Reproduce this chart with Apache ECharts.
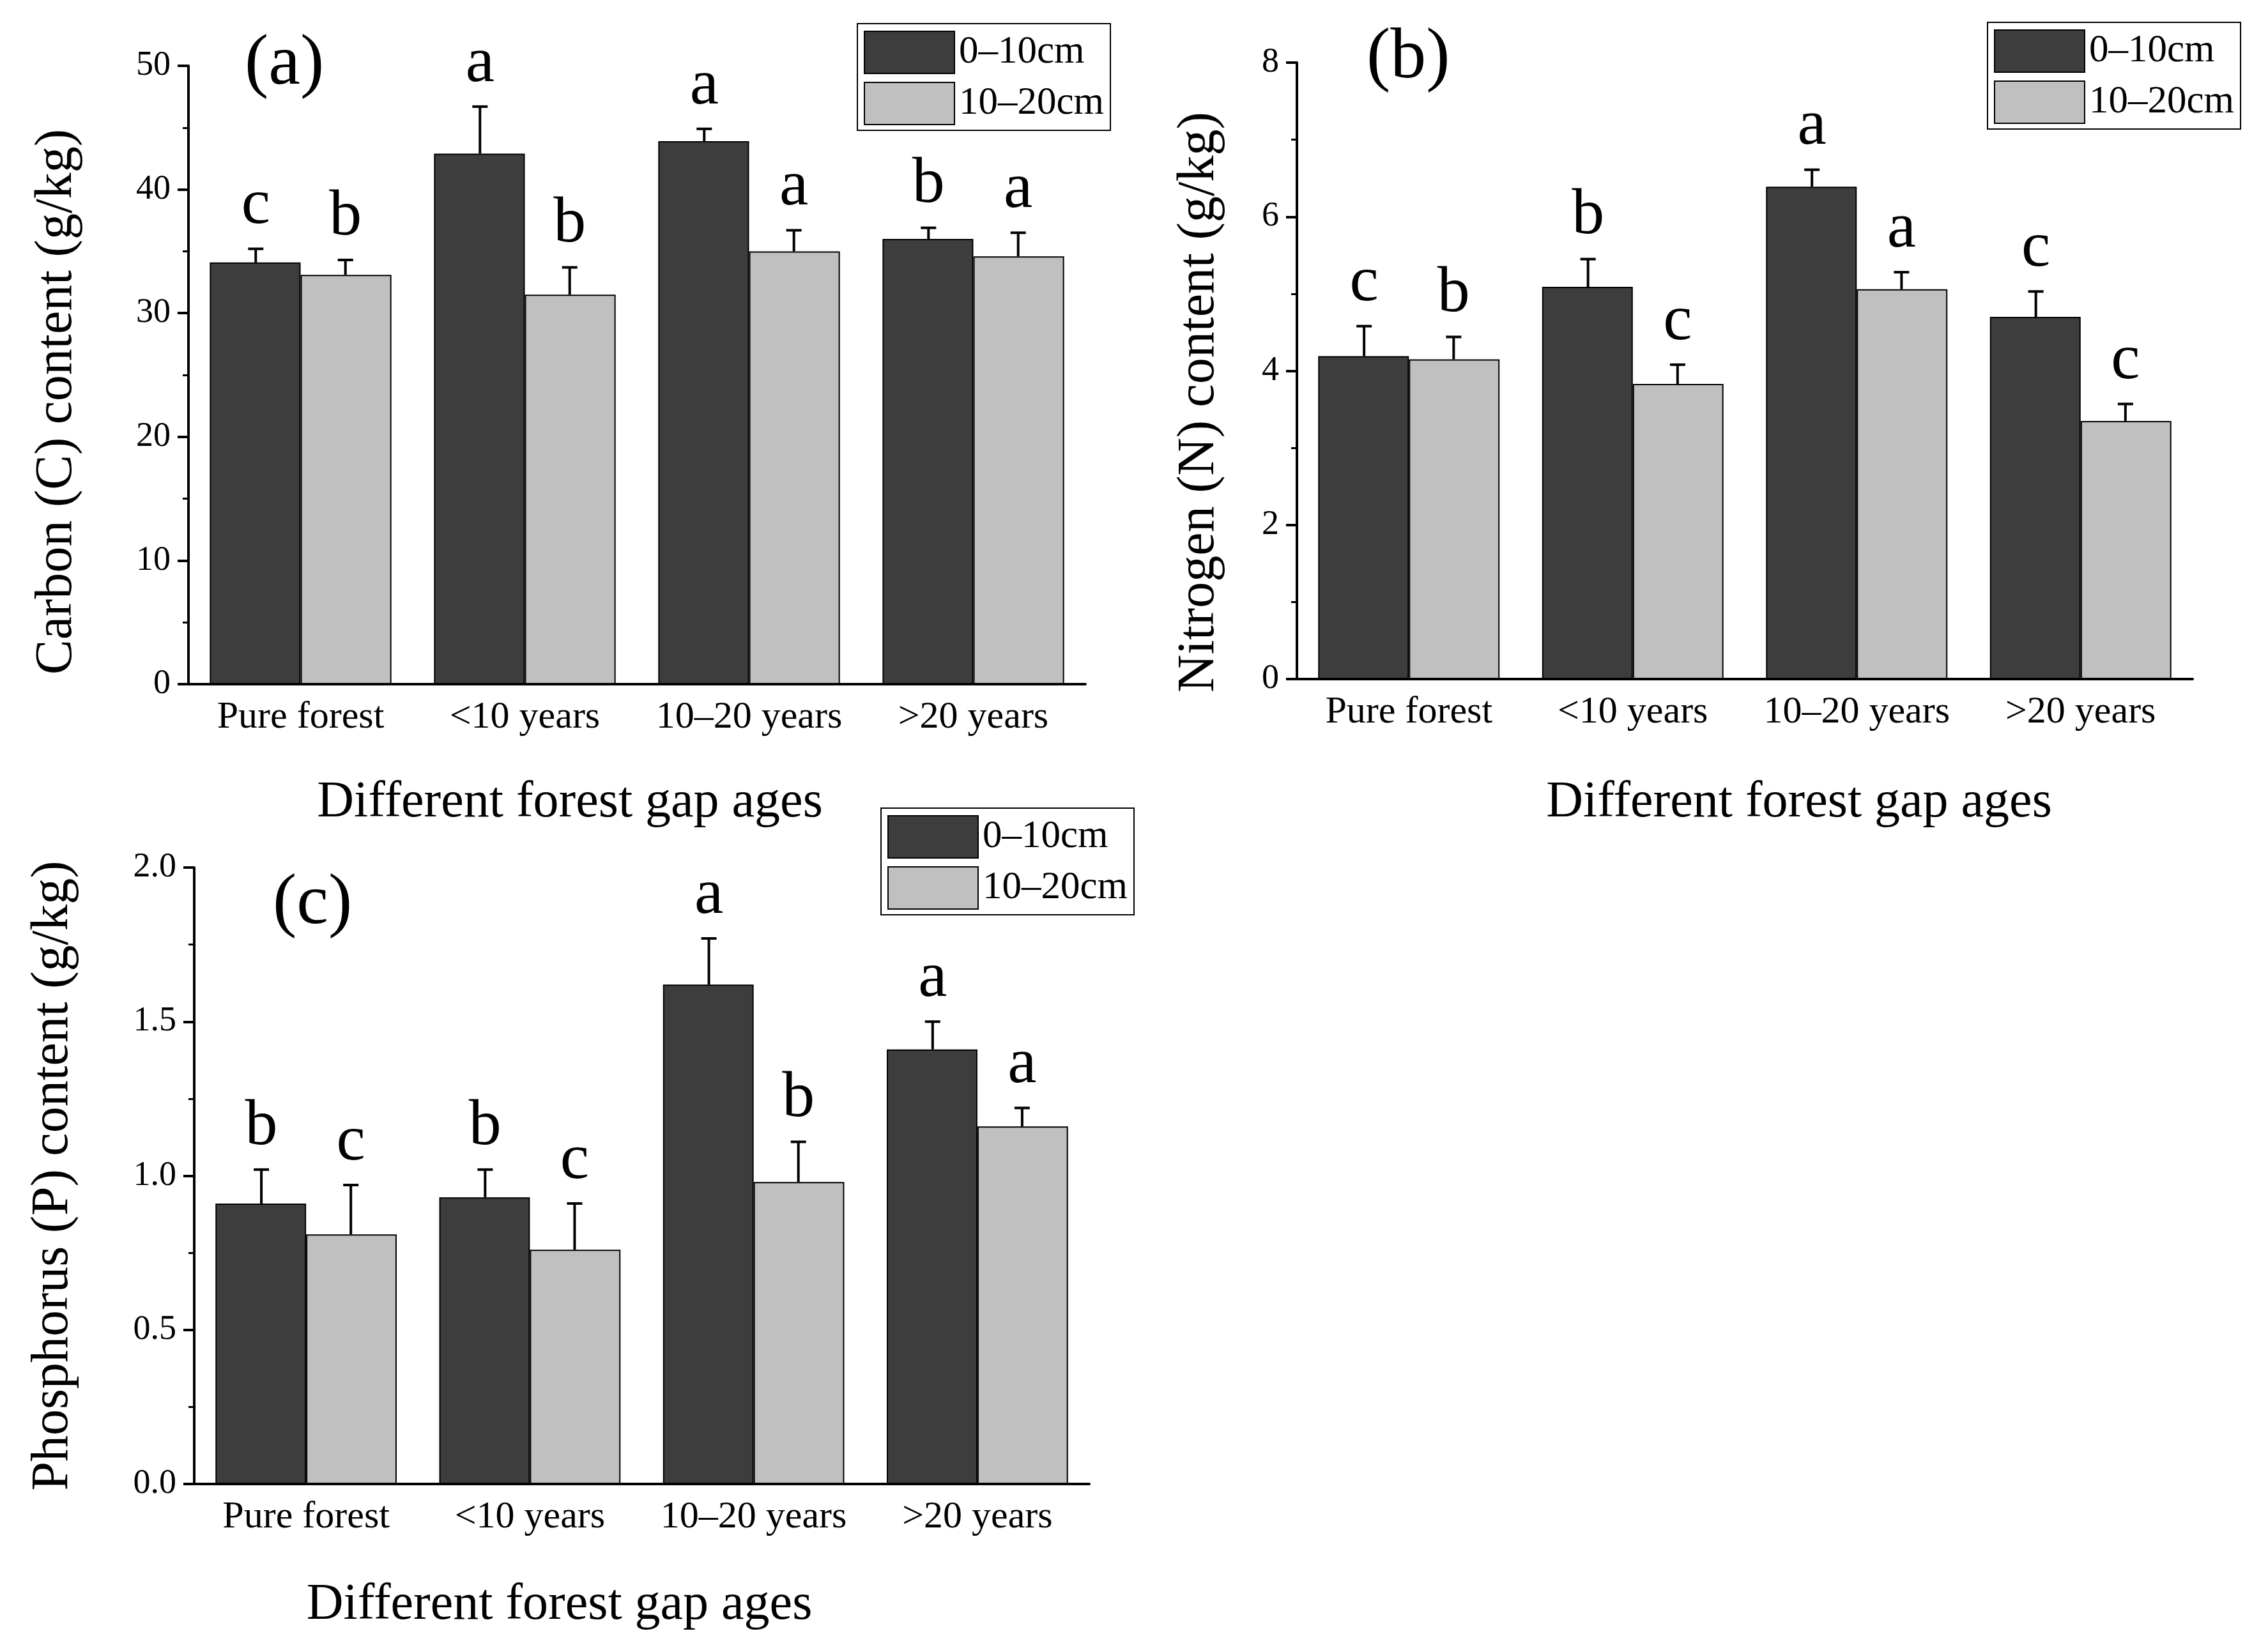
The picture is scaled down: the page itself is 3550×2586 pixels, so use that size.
<!DOCTYPE html>
<html>
<head>
<meta charset="utf-8">
<script src="https://cdn.jsdelivr.net/npm/echarts@6/dist/echarts.min.js"></script>
<style>
  html, body { margin: 0; padding: 0; background: #fff; }
  #chart { width: 3550px; height: 2586px; }
</style>
</head>
<body>
<div id="chart"></div>
<script>
const categories = ["Pure forest", "<10 years", "10–20 years", ">20 years"];
const layerNames = ["0–10cm", "10–20cm"];

// (a) carbon
const carbonTop = [34.1, 42.9, 43.9, 36.0];
const carbonTopErr = [1.1, 3.8, 1.0, 0.9];
const carbonSub = [33.1, 31.5, 35.0, 34.6];
const carbonSubErr = [1.2, 2.2, 1.7, 1.9];
const carbonTopLetters = ["c", "a", "a", "b"];
const carbonSubLetters = ["b", "b", "a", "a"];

// (b) nitrogen
const nitrogenTop = [4.19, 5.09, 6.39, 4.70];
const nitrogenTopErr = [0.39, 0.36, 0.22, 0.33];
const nitrogenSub = [4.15, 3.83, 5.06, 3.35];
const nitrogenSubErr = [0.29, 0.25, 0.22, 0.22];
const nitrogenTopLetters = ["c", "b", "a", "c"];
const nitrogenSubLetters = ["b", "c", "a", "c"];

// (c) phosphorus
const phosTop = [0.91, 0.93, 1.62, 1.41];
const phosTopErr = [0.11, 0.09, 0.15, 0.09];
const phosSub = [0.81, 0.76, 0.98, 1.16];
const phosSubErr = [0.16, 0.15, 0.13, 0.06];
const phosTopLetters = ["b", "b", "a", "a"];
const phosSubLetters = ["c", "c", "b", "a"];

const FONT = "'Liberation Serif', 'Times New Roman', serif";
const DARK = "#3d3d3d";
const LIGHT = "#c0c0c0";

const panels = [
  {
    grid: { left: 295, top: 103, width: 1404, height: 968 },
    y: { max: 50, interval: 10, fmt: (v) => String(v) },
    yName: "Carbon (C) content (g/kg)", yGap: 165, yPad: [0, 84, 0, 0],
    xGap: 146, xPad: [0, 210, 0, 0],
    top: carbonTop, topErr: carbonTopErr, sub: carbonSub, subErr: carbonSubErr,
    topLetters: carbonTopLetters, subLetters: carbonSubLetters,
    legend: { left: 1342, top: 37 },
    tag: "(a)", tagPos: [445, 110],
  },
  {
    grid: { left: 2030, top: 98, width: 1402, height: 965 },
    y: { max: 8, interval: 2, fmt: (v) => String(v) },
    yName: "Nitrogen (N) content (g/kg)", yGap: 112, yPad: [0, 98, 0, 0],
    xGap: 154, xPad: [0, 0, 0, 170],
    top: nitrogenTop, topErr: nitrogenTopErr, sub: nitrogenSub, subErr: nitrogenSubErr,
    topLetters: nitrogenTopLetters, subLetters: nitrogenSubLetters,
    legend: { left: 3111, top: 35 },
    tag: "(b)", tagPos: [2201, 100],
  },
  {
    grid: { left: 304, top: 1358, width: 1401, height: 965 },
    y: { max: 2, interval: 0.5, fmt: (v) => v.toFixed(1) },
    yName: "Phosphorus (P) content (g/kg)", yGap: 180, yPad: [0, 0, 0, 0],
    xGap: 150, xPad: [0, 258, 0, 0],
    top: phosTop, topErr: phosTopErr, sub: phosSub, subErr: phosSubErr,
    topLetters: phosTopLetters, subLetters: phosSubLetters,
    legend: { left: 1379, top: 1265 },
    tag: "(c)", tagPos: [489, 1424],
  },
];

const grids = [];
const xAxes = [];
const yAxes = [];
const legends = [];
const series = [];
const graphics = [];

function errorBars(g, means, errs, letters, side) {
  return {
    type: "custom",
    xAxisIndex: g * 2,
    yAxisIndex: g,
    z: 10,
    silent: true,
    data: means.map((m, i) => [i, m, errs[i]]),
    renderItem: (params, api) => {
      const i = api.value(0);
      const m = api.value(1);
      const e = api.value(2);
      const band = api.size([1, 0])[0];
      const base = api.coord([i, m]);
      const x = base[0] + side * band * 0.2;
      const y0 = base[1];
      const y1 = api.coord([i, m + e])[1];
      const style = { stroke: "#000", lineWidth: 4 };
      return {
        type: "group",
        children: [
          { type: "line", shape: { x1: x, y1: y0, x2: x, y2: y1 }, style },
          { type: "line", shape: { x1: x - 12, y1: y1, x2: x + 12, y2: y1 }, style },
          {
            type: "text",
            style: {
              text: letters[params.dataIndex],
              x: x,
              y: y1 - 16,
              align: "center",
              verticalAlign: "bottom",
              fontFamily: FONT,
              fontSize: 102,
              fill: "#000",
            },
          },
        ],
      };
    },
  };
}

panels.forEach((p, g) => {
  grids.push(p.grid);

  xAxes.push({
    type: "category",
    gridIndex: g,
    data: categories,
    name: "Different forest gap ages",
    nameLocation: "middle",
    nameGap: p.xGap,
    nameTextStyle: { fontFamily: FONT, fontSize: 80, color: "#000", padding: p.xPad },
    axisLine: { lineStyle: { color: "#000", width: 4 } },
    axisTick: { alignWithLabel: true, interval: 0, length: 18, lineStyle: { color: "#000", width: 4 } },
    axisLabel: { interval: 0, fontFamily: FONT, fontSize: 60, color: "#000", margin: 22 },
    splitLine: { show: false },
  });
  // short ticks at category boundaries
  xAxes.push({
    type: "category",
    gridIndex: g,
    data: categories,
    position: "bottom",
    axisLine: { show: false },
    axisTick: { interval: 0, length: 8, lineStyle: { color: "#000", width: 3 } },
    axisLabel: { show: false },
    splitLine: { show: false },
  });

  yAxes.push({
    type: "value",
    gridIndex: g,
    min: 0,
    max: p.y.max,
    interval: p.y.interval,
    name: p.yName,
    nameLocation: "middle",
    nameGap: p.yGap,
    nameTextStyle: { fontFamily: FONT, fontSize: 82, color: "#000", padding: p.yPad },
    axisLine: { show: true, lineStyle: { color: "#000", width: 4 } },
    axisTick: { show: true, length: 17, lineStyle: { color: "#000", width: 4 } },
    minorTick: { show: true, splitNumber: 2, length: 9, lineStyle: { color: "#000", width: 3 } },
    axisLabel: { fontFamily: FONT, fontSize: 54, color: "#000", margin: 28, formatter: p.y.fmt },
    splitLine: { show: false },
  });

  legends.push({
    data: layerNames,
    orient: "vertical",
    left: p.legend.left,
    top: p.legend.top,
    icon: "rect",
    itemWidth: 141,
    itemHeight: 66,
    itemGap: 12,
    padding: [11, 10, 8, 10],
    borderColor: "#000",
    borderWidth: 2,
    borderRadius: 0,
    textStyle: { fontFamily: FONT, fontSize: 61, color: "#000", padding: [0, 0, 0, 2] },
    itemStyle: { borderColor: "#000", borderWidth: 2 },
    selectedMode: false,
  });

  series.push({
    name: layerNames[0],
    type: "bar",
    xAxisIndex: g * 2,
    yAxisIndex: g,
    data: p.top,
    barGap: "0%",
    barCategoryGap: "19%",
    itemStyle: { color: DARK, borderColor: "#000", borderWidth: 2 },
  });
  series.push({
    name: layerNames[1],
    type: "bar",
    xAxisIndex: g * 2,
    yAxisIndex: g,
    data: p.sub,
    barGap: "0%",
    barCategoryGap: "19%",
    itemStyle: { color: LIGHT, borderColor: "#000", borderWidth: 2 },
  });
  series.push(errorBars(g, p.top, p.topErr, p.topLetters, -1));
  series.push(errorBars(g, p.sub, p.subErr, p.subLetters, 1));

  graphics.push({
    type: "text",
    left: p.tagPos[0] - 62,
    top: p.tagPos[1] - 64,
    style: { text: p.tag, fontFamily: FONT, fontSize: 112, fill: "#000" },
  });
});

const chart = echarts.init(document.getElementById("chart"));
chart.setOption({
  animation: false,
  backgroundColor: "#fff",
  grid: grids,
  xAxis: xAxes,
  yAxis: yAxes,
  legend: legends,
  series: series,
  graphic: graphics,
});
</script>
</body>
</html>
